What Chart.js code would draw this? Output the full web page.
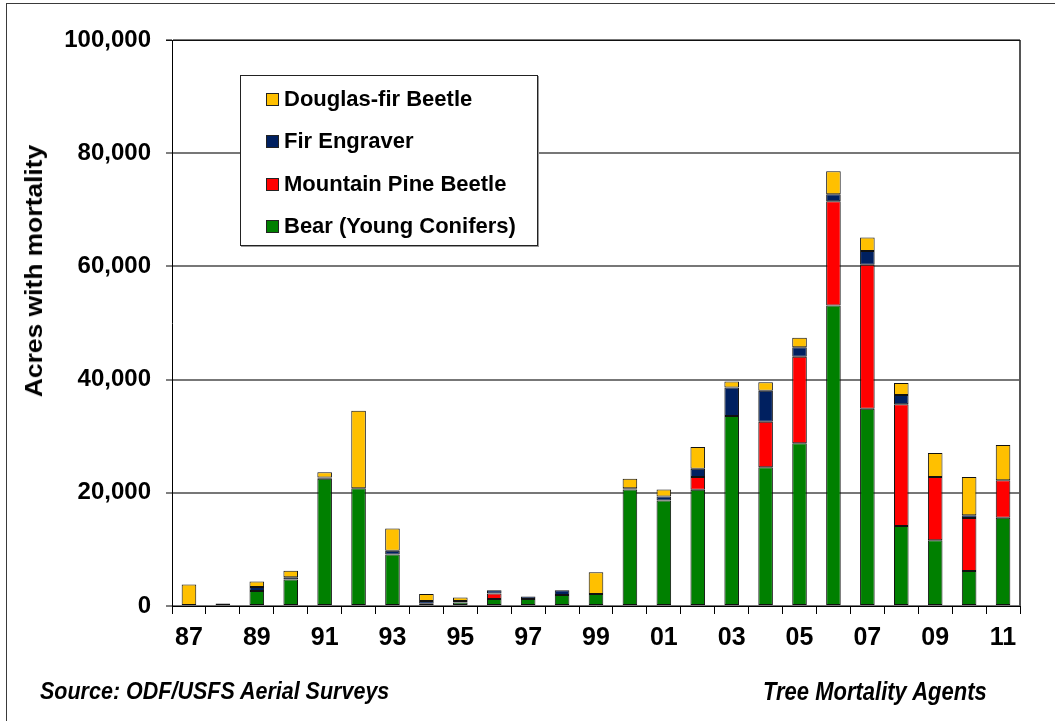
<!DOCTYPE html>
<html>
<head>
<meta charset="utf-8">
<script src="https://cdn.jsdelivr.net/npm/chart.js@4.4.1/dist/chart.umd.min.js"></script>
<style>
  html, body { margin: 0; padding: 0; background: #fff; overflow: hidden; }
  #wrap { position: relative; width: 1055px; height: 721px; }
  #frame { position: absolute; left: 6px; top: 3px; width: 1200px; height: 900px; border: 1px solid #3a3a3a; box-sizing: border-box; }
  canvas { position: absolute; left: 0; top: 0; }
  #ytitle { position: absolute; left: 34px; top: 271px; transform: translate(-50%, -50%) rotate(-90deg) scaleX(1.1);
            font: bold 24px "Liberation Sans", Arial, sans-serif; white-space: nowrap; color: #000; }
  #legend { position: absolute; left: 240px; top: 75px; width: 298px; height: 171px; box-sizing: border-box;
            border: 1px solid #222; background: #fff; box-shadow: 1px 1px 0 #999; }
  .li { position: absolute; left: 25px; height: 24px; display: flex; align-items: center;
        font: bold 22px "Liberation Sans", Arial, sans-serif; color: #000; white-space: nowrap; }
  .sw { width: 11px; height: 11px; border: 1px solid #222; margin-right: 5px; flex: none; }
  .foot { position: absolute; font: italic bold 21.5px "Liberation Sans", Arial, sans-serif; color: #000; white-space: nowrap;
          transform: scaleY(1.15); transform-origin: left center; }
</style>
</head>
<body>
<div id="wrap">
  <div id="frame"></div>
  <canvas id="c" width="1055" height="721"></canvas>
  <div id="ytitle">Acres with mortality</div>
  <div id="legend"></div>
  <div class="foot" id="src" style="left:40px; top:679px;">Source: ODF/USFS Aerial Surveys</div>
  <div class="foot" id="agents" style="left:763px; top:679px; font-size:22px;">Tree Mortality Agents</div>
</div>
<script>
// ---- data ----
const years = ['87','88','89','90','91','92','93','94','95','96','97','98','99','00','01','02','03','04','05','06','07','08','09','10','11'];
const bear = [0, 0, 2650, 4700, 22500, 20800, 9100, 400, 600, 1250, 1250, 1950, 2100, 20600, 18650, 20550, 33550, 24500, 28750, 53100, 34850, 14150, 11600, 6200, 15600];
const mountainPineBeetle = [0, 0, 0, 0, 0, 0, 0, 0, 0, 940, 0, 0, 0, 0, 0, 2240, 0, 8060, 15300, 18400, 25450, 21500, 11200, 9350, 6600];
const firEngraver = [0, 0, 700, 400, 200, 0, 650, 470, 300, 590, 450, 820, 0, 200, 700, 1470, 5060, 5470, 1650, 1240, 2410, 1650, 0, 470, 0];
const douglasFirBeetle = [3780, 420, 1000, 1120, 940, 13700, 3940, 1240, 590, 0, 0, 0, 3880, 1700, 1240, 3820, 1060, 1480, 1700, 4060, 2410, 2080, 4240, 6770, 6230];
const yTicks = [0, 20000, 40000, 60000, 80000, 100000];

const seriesNames = ['Bear (Young Conifers)', 'Mountain Pine Beetle', 'Fir Engraver', 'Douglas-fir Beetle'];
const seriesColors = ['#008000', '#FF0000', '#002060', '#FFC000'];
const seriesData = [bear, mountainPineBeetle, firEngraver, douglasFirBeetle];

const datasets = seriesData.map((d, i) => ({
  label: seriesNames[i],
  data: d,
  backgroundColor: seriesColors[i],
  borderColor: '#111',
  borderWidth: (ctx) => (ctx.raw ? 1 : 0),
  borderSkipped: false,
  barPercentage: 0.43,
  categoryPercentage: 1.0
}));

// HTML legend (top-to-bottom order is reversed stack)
const legend = document.getElementById('legend');
const rowCenters = [23, 65, 108, 150];
[3, 2, 1, 0].forEach((si, k) => {
  const row = document.createElement('div');
  row.className = 'li';
  row.style.top = (rowCenters[k] - 12) + 'px';
  const sw = document.createElement('span');
  sw.className = 'sw';
  sw.style.background = seriesColors[si];
  row.appendChild(sw);
  row.appendChild(document.createTextNode(seriesNames[si]));
  legend.appendChild(row);
});

const plotFrame = {
  id: 'plotFrame',
  beforeDatasetsDraw(chart) {
    const a = chart.chartArea, c = chart.ctx;
    c.save();
    c.strokeStyle = '#555';
    c.lineWidth = 2;
    c.beginPath();
    c.moveTo(a.right, a.top);
    c.lineTo(a.right, a.bottom);
    c.stroke();
    c.strokeStyle = '#111';
    c.lineWidth = 1;
    c.beginPath();
    c.moveTo(a.left - 6, a.top + 0.5);
    c.lineTo(a.right, a.top + 0.5);
    c.stroke();
    c.restore();
  }
};

new Chart(document.getElementById('c'), {
  type: 'bar',
  data: { labels: years, datasets },
  options: {
    responsive: false,
    animation: false,
    events: [],
    layout: { padding: { left: 0, top: 40, right: 35, bottom: 0 } },
    plugins: { legend: { display: false }, tooltip: { enabled: false } },
    scales: {
      x: {
        stacked: true,
        afterFit: (s) => { s.height = 115; },
        border: { display: true, color: '#000', width: 1 },
        grid: { offset: true, drawOnChartArea: false, drawTicks: true, tickLength: 8, tickColor: '#000', tickWidth: 1 },
        ticks: {
          autoSkip: false, maxRotation: 0, minRotation: 0, padding: 9, color: '#000',
          font: { family: '"Liberation Sans Narrow", "Arial Narrow", "Liberation Sans", Arial', size: 25, weight: 'bold' },
          callback: function (v, i) { return i % 2 === 0 ? this.getLabelForValue(v) : ''; }
        }
      },
      y: {
        stacked: true,
        min: 0, max: 100000,
        afterFit: (s) => { s.width = 172; },
        afterBuildTicks: (s) => { s.ticks = yTicks.map(v => ({ value: v })); },
        border: { display: true, color: '#000', width: 1 },
        grid: { color: '#777', lineWidth: 2, tickLength: 6, tickColor: '#000', tickWidth: 1 },
        ticks: {
          padding: 15, color: '#000',
          font: { family: '"Liberation Sans", Arial', size: 24, weight: 'bold' },
          callback: (v) => v.toLocaleString('en-US')
        }
      }
    }
  },
  plugins: [plotFrame]
});
</script>
</body>
</html>
